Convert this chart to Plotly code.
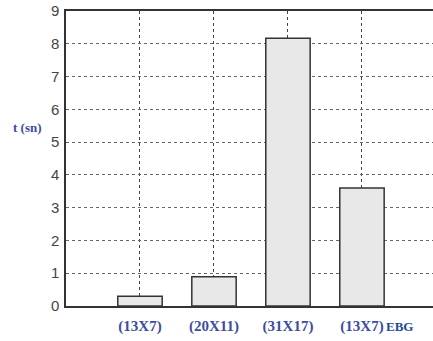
import plotly.graph_objects as go

categories = ["(13X7)", "(20X11)", "(31X17)", "(13X7)"]
positions = [1, 2, 3, 4]
times = [0.3, 0.89, 8.17, 3.6]
y_ticks = [0, 1, 2, 3, 4, 5, 6, 7, 8, 9]
y_title = "t (sn)"
extra_label = "EBG"

fig = go.Figure()
fig.add_trace(go.Bar(
    x=positions, y=times, width=0.6,
    marker=dict(color="#e8e8e8", line=dict(color="#333333", width=1.5)),
    hoverinfo="skip",
))

fig.update_layout(
    width=433, height=341,
    margin=dict(l=66, r=0, t=11, b=35, autoexpand=False),
    paper_bgcolor="white", plot_bgcolor="white",
    showlegend=False,
    xaxis=dict(
        range=[0, 4.96], tickvals=positions, ticktext=categories,
        automargin=False,
        showgrid=True, gridcolor="#444444", griddash="dot", gridwidth=1.2,
        showline=True, linecolor="#333333", linewidth=1.5, mirror=True,
        zeroline=False, ticks="", ticklabelstandoff=5,
        tickfont=dict(family="Liberation Serif", size=15, color="#3d4c9e", weight="bold"),
    ),
    yaxis=dict(
        range=[0, 9], tickvals=y_ticks, automargin=False,
        showgrid=True, gridcolor="#666666", griddash="dot", gridwidth=1.2,
        showline=True, linecolor="#333333", linewidth=1.5,
        zeroline=False, ticks="", ticklabelstandoff=2,
        tickfont=dict(family="Liberation Sans", size=15, color="#444444"),
    ),
)

fig.add_annotation(
    x=-0.105, y=5.46, xref="paper", yref="y", text=y_title, showarrow=False,
    xanchor="center", yanchor="middle",
    font=dict(family="Liberation Serif", size=13, color="#3d4c9e", weight="bold"),
)
fig.add_annotation(
    x=4.0, y=0, xref="x", yref="y", text=extra_label, showarrow=False,
    xanchor="left", yanchor="top", xshift=22, yshift=-11,
    font=dict(family="Liberation Serif", size=13, color="#1f4a96", weight="bold"),
)

fig.write_html("out.html", config={"displayModeBar": False},
               post_script="document.body.style.margin='0';")
